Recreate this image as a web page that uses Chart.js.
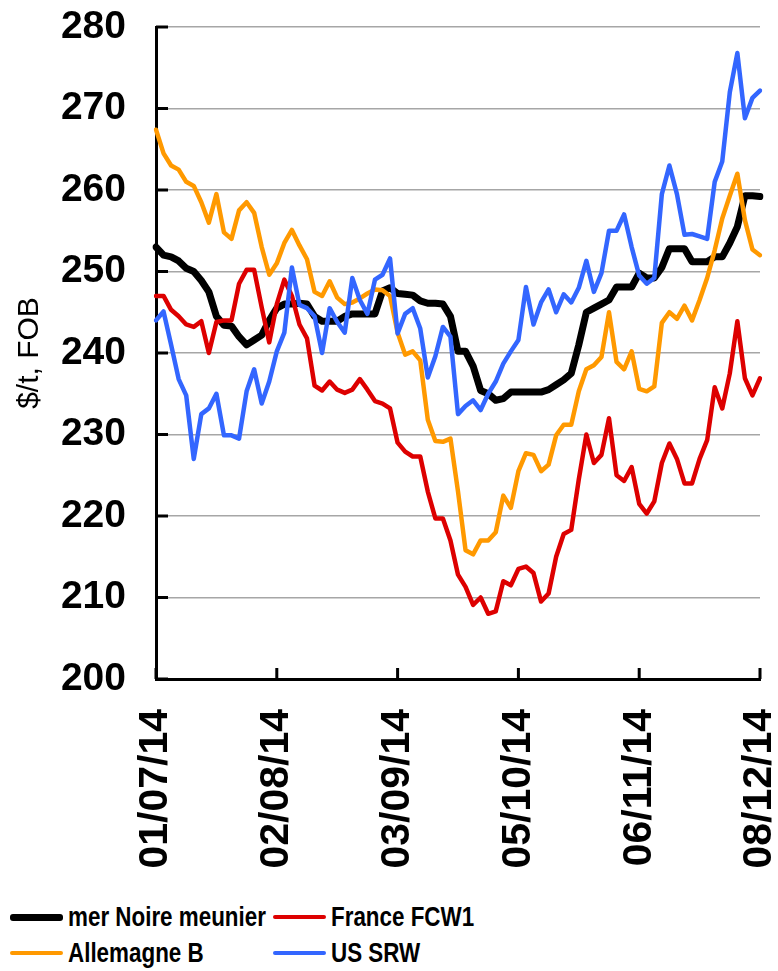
<!DOCTYPE html>
<html>
<head>
<meta charset="utf-8">
<script src="https://cdn.jsdelivr.net/npm/chart.js@4.4.1/dist/chart.umd.min.js"></script>
<style>
  body { margin: 0; background: #fff; width: 778px; height: 971px; overflow: hidden; position: relative; font-family: "Liberation Sans", Arial, sans-serif; }
  #chart { position: absolute; left: 0; top: 0; }
  #legend { position: absolute; left: 10px; top: 899px; display: grid; grid-template-columns: 263px 263px; }
  .item { display: flex; align-items: center; height: 36px; }
  .swatch { width: 53px; flex: none; border-radius: 3px; }
  .name { font-weight: bold; font-size: 28px; color: #000; margin-left: 5px; transform: scaleX(0.8); transform-origin: left center; white-space: nowrap; }
</style>
</head>
<body>
<canvas id="chart" width="778" height="890"></canvas>
<div id="legend"></div>
<script>
// Data, one value every 2 days starting 01/07/14
const startDate = Date.UTC(2014, 6, 1);
const stepDays = 2;
const tickLabels = ['01/07/14', '02/08/14', '03/09/14', '05/10/14', '06/11/14', '08/12/14'];

const merNoire = [
  253, 252, 251.8, 251.3, 250.4, 250, 248.9, 247.5, 244.5, 243.4,
  243.3, 242, 241, 241.6, 242.2, 244, 245.5, 246, 246, 246.1,
  246, 244.5, 243.9, 243.9, 243.9, 244.5, 244.8, 244.8, 244.8, 244.8,
  247.6, 248, 247.3, 247.2, 247.1, 246.4, 246.1, 246.1, 246, 244.5,
  240.2, 240.2, 238.4, 235.4, 235, 234.2, 234.4, 235.2, 235.2, 235.2,
  235.2, 235.2, 235.5, 236.1, 236.7, 237.5, 241, 245, 245.5, 246,
  246.5, 248.1, 248.1, 248.1, 249.8, 249.2, 249.2, 250.5, 252.8, 252.8,
  252.8, 251.2, 251.2, 251.2, 251.8, 251.8, 253.5, 255.5, 259.3, 259.3,
  259.2
];
const franceFCW1 = [
  247, 247, 245.3, 244.5, 243.5, 243.2, 243.9, 240, 243.8, 244,
  244, 248.5, 250.2, 250.2, 245.6, 241.3, 246, 249, 247, 243.5,
  241.8, 236, 235.4, 236.5, 235.5, 235.1, 235.5, 236.8, 235.5, 234.1,
  233.8, 233.2, 229, 227.9, 227.3, 227.3, 223, 219.7, 219.7, 217,
  212.8, 211.3, 209.1, 210, 208, 208.3, 212, 211.5, 213.5, 213.8,
  213, 209.5, 210.5, 215, 217.8, 218.3, 224.5, 230, 226.5, 227.5,
  232, 225, 224.3, 226, 221.5, 220.3, 221.8, 226.5, 228.9, 227,
  224, 224, 227, 229.3, 235.8, 233.2, 237.5, 243.9, 236.9, 234.8,
  236.9
];
const allemagneB = [
  267.4, 264.5, 263, 262.5, 261, 260.5, 258.5, 256, 259.5, 254.8,
  254, 257.5, 258.5, 257.2, 253, 249.6, 251, 253.5, 255.1, 253.2,
  251.5, 247.5, 247, 248.8, 246.8, 246, 246.2, 246.7, 247.3, 247.8,
  247.7, 247, 242.5, 239.8, 240.2, 239.1, 231.8, 229.2, 229.1, 229.5,
  223, 215.8, 215.3, 217, 217, 218, 222.5, 221, 225.5, 227.7,
  227.5, 225.5, 226.3, 229.9, 231.2, 231.2, 235.3, 238, 238.5, 239.5,
  245, 238.9, 238, 240.2, 235.6, 235.3, 235.9, 243.7, 245, 244.2,
  245.8, 244, 246.5, 249.2, 252.6, 256.5, 259.3, 262, 256.3, 252.7,
  252
];
const usSRW = [
  244, 245.1, 241, 236.8, 234.8, 227, 232.5, 233.2, 235, 229.9,
  229.9, 229.5, 235.3, 238, 233.8, 236.5, 240.2, 242.5, 250.5, 245.9,
  245.5, 244.5, 240, 245.5, 243.8, 242.5, 249.2, 246.5, 244.8, 249,
  249.6, 251.6, 242.4, 244.8, 245.5, 243, 237, 239.6, 243.2, 242,
  232.5, 233.5, 234.2, 233, 235, 236.5, 238.7, 240.2, 241.6, 248.1,
  243.5, 246.2, 247.8, 245, 247.2, 246.2, 248, 251.3, 247.5, 249.8,
  255, 255, 257, 253, 249.5, 248.5, 249.2, 259.5, 263, 259.5,
  254.5, 254.6, 254.3, 254, 261, 263.5, 272, 276.8, 268.8, 271.3,
  272.2
];

// category labels dd/mm/yy
function fmt(d) {
  const p = n => String(n).padStart(2, '0');
  return p(d.getUTCDate()) + '/' + p(d.getUTCMonth() + 1) + '/' + p(d.getUTCFullYear() % 100);
}
const dates = merNoire.map((_, i) => fmt(new Date(startDate + i * stepDays * 86400000)));

Chart.defaults.font.family = '"Liberation Sans", Arial, sans-serif';
Chart.defaults.color = '#000';

// small tick marks pointing into the plot, like the original
const innerTicks = {
  id: 'innerTicks',
  beforeDatasetsDraw(chart) {
    const { ctx, chartArea, scales: { x, y } } = chart;
    ctx.save();
    ctx.strokeStyle = '#000';
    ctx.lineWidth = 3;
    ctx.beginPath();
    y.ticks.forEach((t, i) => {
      const py = y.getPixelForTick(i);
      ctx.moveTo(chartArea.left, py);
      ctx.lineTo(chartArea.left + 12, py);
    });
    x.ticks.forEach((t, i) => {
      if (!t.label) return;
      const px = x.getPixelForTick(i);
      ctx.moveTo(px, chartArea.bottom);
      ctx.lineTo(px, chartArea.bottom - 11);
    });
    ctx.stroke();
    ctx.restore();
  }
};

const series = [
  { label: 'mer Noire meunier', data: merNoire, color: '#000000', width: 7, order: 4 },
  { label: 'France FCW1', data: franceFCW1, color: '#dd0000', width: 4.5, order: 3 },
  { label: 'Allemagne B', data: allemagneB, color: '#ff9900', width: 4.5, order: 2 },
  { label: 'US SRW', data: usSRW, color: '#3366ff', width: 4.5, order: 1 }
];

const chart = new Chart(document.getElementById('chart'), {
  type: 'line',
  data: {
    labels: dates,
    datasets: series.map(s => ({
      label: s.label,
      data: s.data,
      borderColor: s.color,
      backgroundColor: s.color,
      borderWidth: s.width,
      pointRadius: 0,
      tension: 0,
      borderJoinStyle: 'round',
      borderCapStyle: 'round',
      order: s.order
    }))
  },
  options: {
    responsive: false,
    animation: false,
    layout: { padding: { top: 27, right: 18, left: 0, bottom: 0 } },
    plugins: {
      legend: { display: false },
      tooltip: { enabled: false }
    },
    scales: {
      x: {
        type: 'category',
        offset: false,
        grid: { drawOnChartArea: false, drawTicks: false },
        border: { color: '#000', width: 3 },
        ticks: {
          autoSkip: false,
          minRotation: 90,
          maxRotation: 90,
          padding: 30,
          font: { size: 41, weight: 'bold' },
          callback: function (v) {
            const l = this.getLabelForValue(v);
            return tickLabels.includes(l) ? l : null;
          }
        },
        afterFit(s) {
          s.height = 890 - 679;
          s.paddingLeft = 0;
          s.paddingRight = 0;
        }
      },
      y: {
        min: 200,
        max: 280,
        ticks: { stepSize: 10, padding: 30, font: { size: 39, weight: 'bold' } },
        grid: { color: '#a6a6a6', lineWidth: 1.5, drawTicks: false },
        border: { color: '#000', width: 3 },
        title: {
          display: true,
          text: '$/t, FOB',
          font: { size: 30, weight: 'normal' },
          padding: { top: 12, bottom: 0 }
        },
        afterFit(s) {
          s.width = 156;
          s.paddingTop = 0;
          s.paddingBottom = 0;
        }
      }
    }
  },
  plugins: [innerTicks]
});

// legend in two columns under the chart
const legend = document.getElementById('legend');
series.forEach(s => {
  const item = document.createElement('div');
  item.className = 'item';
  const sw = document.createElement('span');
  sw.className = 'swatch';
  sw.style.height = s.width + 'px';
  sw.style.background = s.color;
  const name = document.createElement('span');
  name.className = 'name';
  name.textContent = s.label;
  item.appendChild(sw);
  item.appendChild(name);
  legend.appendChild(item);
});
</script>
</body>
</html>
